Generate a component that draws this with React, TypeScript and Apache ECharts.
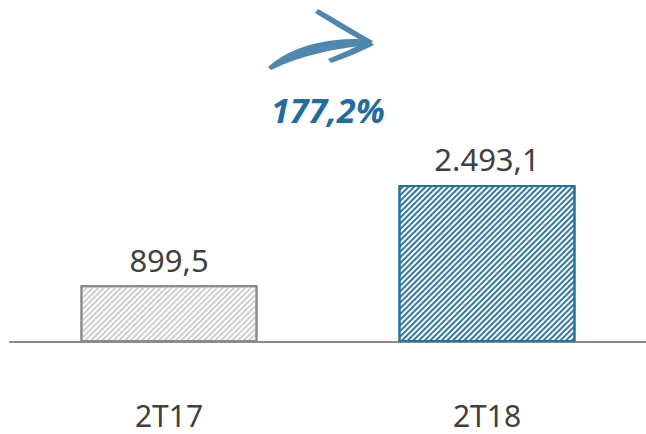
import React, { useEffect, useRef } from "react";
import * as echarts from "echarts";

const categories = ["2T17", "2T18"];
const values = [899.5, 2493.1];
const barBorderColors = ["#8a8a8a", "#2471a3"];
const barStripeColors = ["#cfcfcf", "#2e78aa"];

function fmt(v: number): string {
  const s = v.toFixed(1);
  const [i, d] = s.split(".");
  const withDots = i.replace(/\B(?=(\d{3})+(?!\d))/g, ".");
  return withDots + "," + d;
}

const growth = (values[1] / values[0] - 1) * 100;

const arrowD =
  "M268,67 C288,49 322,37 369,39 L372,45 C333,48 300,56 271,70 Z " +
  "M318,9 C336,19 355,31 373,41 L369,45 C351,35 333,24 315,13 Z " +
  "M369,40 L374,45 C360,52 346,58 331,63 L328,59 C342,53 356,47 369,40 Z";

let registered = false;

export default function App() {
  const ref = useRef<HTMLDivElement>(null);
  useEffect(() => {
    document.body.style.margin = "0";
    if (!registered) {
      echarts.graphic.registerShape("arrowLogo", echarts.graphic.extendPath(arrowD, {}) as any);
      registered = true;
    }
    const chart = echarts.init(ref.current!, undefined, { renderer: "svg" });
    chart.setOption({
      animation: false,
      grid: { left: 10, width: 641, top: 27, bottom: 92 },
      xAxis: {
        type: "category",
        data: categories,
        axisLine: { lineStyle: { color: "#8c8c8c", width: 2 } },
        axisTick: { show: false },
        axisLabel: {
          margin: 58,
          fontSize: 30,
          color: "#404040",
          fontFamily: "Noto Sans",
        },
      },
      yAxis: {
        type: "value",
        min: 0,
        max: 5000,
        show: false,
        splitLine: { show: false },
      },
      series: [
        {
          type: "bar",
          barWidth: 177,
          data: values.map((v, i) => ({
            value: v,
            itemStyle: {
              color: "#ffffff",
              borderColor: barBorderColors[i],
              borderWidth: 2,
              decal: {
                symbol: "rect",
                symbolSize: 1,
                dashArrayX: [1, 0],
                dashArrayY: [2, 2],
                rotation: -Math.PI / 4,
                color: barStripeColors[i],
              },
            },
          })),
          label: {
            show: true,
            position: "top",
            distance: 10,
            fontSize: 31,
            color: "#404040",
            fontFamily: "Noto Sans",
            formatter: (p: any) => fmt(p.value),
          },
        },
      ],
      graphic: [
        {
          type: "arrowLogo",
          x: 0,
          y: 0,
          style: { fill: "#3f7eaa", opacity: 0.92 },
        },
        {
          type: "text",
          x: 328,
          y: 110,
          style: {
            text: growth.toFixed(1).replace(".", ",") + "%",
            fontSize: 34,
            fontWeight: "bold",
            fontStyle: "italic",
            fontFamily: "Noto Sans",
            fill: "#1f6e9e",
            align: "center",
            verticalAlign: "middle",
          },
        },
      ],
    });
    return () => chart.dispose();
  }, []);
  return <div ref={ref} style={{ width: 646, height: 434 }} />;
}
